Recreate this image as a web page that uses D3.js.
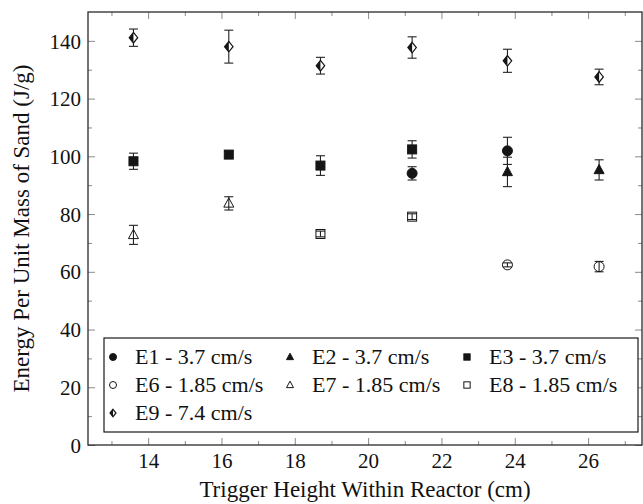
<!DOCTYPE html>
<html>
<head>
<meta charset="utf-8">
<script src="https://cdn.jsdelivr.net/npm/d3@7"></script>
<style>
  body { margin: 0; background: #fff; font-family: serif; }
  svg, svg text { font-family: serif; }
</style>
</head>
<body>
<svg id="plot" width="643" height="504" font-family="serif"></svg>
<script>
// trigger heights (cm)
const xTicks = [14, 16, 18, 20, 22, 24, 26];
const yTicks = [0, 20, 40, 60, 80, 100, 120, 140];

// each series: heights, energy, error (+/-)
const e1X = [21.2, 23.8];
const e1Y = [94.1, 101.9];
const e1Err = [2.3, 4.7];

const e2X = [23.8, 26.3];
const e2Y = [94.6, 95.3];
const e2Err = [5.1, 3.5];

const e3X = [13.6, 16.2, 18.7, 21.2];
const e3Y = [98.3, 100.6, 96.8, 102.4];
const e3Err = [2.8, 1.0, 3.4, 3.0];

const e6X = [23.8, 26.3];
const e6Y = [62.4, 61.8];
const e6Err = [0.7, 1.8];

const e7X = [13.6, 16.2];
const e7Y = [72.8, 83.7];
const e7Err = [3.3, 2.3];

const e8X = [18.7, 21.2];
const e8Y = [73.1, 79.1];
const e8Err = [1.0, 1.0];

const e9X = [13.6, 16.2, 18.7, 21.2, 23.8, 26.3];
const e9Y = [141.1, 138.0, 131.4, 137.7, 133.1, 127.5];
const e9Err = [3.0, 5.7, 2.9, 3.7, 4.0, 2.7];

const seriesNames = ['E1 - 3.7 cm/s', 'E2 - 3.7 cm/s', 'E3 - 3.7 cm/s',
  'E6 - 1.85 cm/s', 'E7 - 1.85 cm/s', 'E8 - 1.85 cm/s', 'E9 - 7.4 cm/s'];
const seriesMarks = ['circle', 'triangle', 'square', 'ocircle', 'otriangle', 'osquare', 'halfdiamond'];

const series = [
  { x: e1X, y: e1Y, err: e1Err },
  { x: e2X, y: e2Y, err: e2Err },
  { x: e3X, y: e3Y, err: e3Err },
  { x: e6X, y: e6Y, err: e6Err },
  { x: e7X, y: e7Y, err: e7Err },
  { x: e8X, y: e8Y, err: e8Err },
  { x: e9X, y: e9Y, err: e9Err }
].map(function (s, i) {
  return { name: seriesNames[i], mark: seriesMarks[i],
    points: s.x.map(function (x, j) { return { x: x, y: s.y[j], err: s.err[j] }; }) };
});

const margin = { top: 12, left: 88, bottom: 59, right: 1 };
const width = 643 - margin.left - margin.right;
const height = 504 - margin.top - margin.bottom;
const ink = '#151515';

const root = d3.select('#plot');
const chart = root.append('g')
  .attr('transform', `translate(${margin.left}, ${margin.top})`);

const xScale = d3.scaleLinear().domain([12.36, 27.47]).range([0, width]);
const yScale = d3.scaleLinear().domain([0, 150]).range([height, 0]);

// ticks drawn inward on all four sides
function drawTicks(values, len, labels) {
  const bottom = d3.axisBottom(xScale).tickValues(values).tickSize(-len).tickFormat(labels ? d3.format('d') : '');
  const top = d3.axisTop(xScale).tickValues(values).tickSize(-len).tickFormat('');
  chart.append('g').attr('class', 'xb').attr('transform', `translate(0, ${height})`).call(bottom);
  chart.append('g').attr('class', 'xt').call(top);
}
function drawYTicks(values, len, labels) {
  const left = d3.axisLeft(yScale).tickValues(values).tickSize(-len).tickFormat(labels ? d3.format('d') : '');
  const right = d3.axisRight(yScale).tickValues(values).tickSize(-len).tickFormat('');
  chart.append('g').attr('class', 'yl').call(left);
  chart.append('g').attr('class', 'yr').attr('transform', `translate(${width}, 0)`).call(right);
}
drawTicks(d3.range(13, 28, 2), 4, false);
drawTicks(xTicks, 7, true);
drawYTicks(d3.range(10, 150, 20), 4, false);
drawYTicks(yTicks, 7, true);

chart.selectAll('.domain').remove();
chart.selectAll('.xb, .xt, .yl, .yr').attr('font-family', 'serif').attr('font-size', 21);
chart.selectAll('.tick line').attr('stroke', '#8a8a8a').attr('stroke-width', 1);
chart.selectAll('.xb .tick text').attr('y', 23).attr('dy', null);
chart.selectAll('.yl .tick text').attr('x', -7).attr('dy', '0.34em');
chart.selectAll('.tick text').attr('fill', '#111').style('font-family', 'serif');

chart.append('rect')
  .attr('width', width).attr('height', height)
  .attr('fill', 'none').attr('stroke', '#2a2a2a').attr('stroke-width', 1.3);

// marker drawing
function drawMark(g, mark, s) {
  const r = s / 2;
  if (mark === 'circle' || mark === 'ocircle') {
    g.append('circle').attr('r', r)
      .attr('fill', mark === 'circle' ? ink : 'none')
      .attr('stroke', ink).attr('stroke-width', 1);
  } else if (mark === 'square' || mark === 'osquare') {
    g.append('rect').attr('x', -r * 0.9).attr('y', -r * 0.9).attr('width', s * 0.9).attr('height', s * 0.9)
      .attr('fill', mark === 'square' ? ink : 'none')
      .attr('stroke', ink).attr('stroke-width', 1);
  } else if (mark === 'triangle' || mark === 'otriangle') {
    g.append('path')
      .attr('d', `M0,${-r * 1.1}L${r},${r * 0.75}L${-r},${r * 0.75}Z`)
      .attr('fill', mark === 'triangle' ? ink : 'none')
      .attr('stroke', ink).attr('stroke-width', 1);
  } else if (mark === 'halfdiamond') {
    const w = r * 0.85, h = r * 1.05;
    g.append('path').attr('d', `M0,${-h}L${w},0L0,${h}L${-w},0Z`)
      .attr('fill', '#fff').attr('stroke', ink).attr('stroke-width', 1.2);
    g.append('path').attr('d', `M0,${-h}L${-w},0L0,${h}Z`).attr('fill', ink);
  }
}

const marks = chart.append('g');
series.forEach(function (s) {
  const g = marks.append('g');
  // error bars first
  s.points.forEach(function (p) {
    const px = xScale(p.x);
    const y0 = yScale(p.y - p.err);
    const y1 = yScale(p.y + p.err);
    const eb = g.append('g').attr('stroke', '#222').attr('stroke-width', 1.1);
    eb.append('line').attr('x1', px).attr('x2', px).attr('y1', y0).attr('y2', y1);
    eb.append('line').attr('x1', px - 4.5).attr('x2', px + 4.5).attr('y1', y0).attr('y2', y0);
    eb.append('line').attr('x1', px - 4.5).attr('x2', px + 4.5).attr('y1', y1).attr('y2', y1);
  });
  s.points.forEach(function (p) {
    const m = g.append('g').attr('transform', `translate(${xScale(p.x)}, ${yScale(p.y)})`);
    drawMark(m, s.mark, 10);
  });
});

// legend
const legend = chart.append('g').attr('transform', `translate(16, ${height - 107})`);
legend.append('rect')
  .attr('width', 534).attr('height', 94)
  .attr('fill', '#fff').attr('stroke', '#1a1a1a').attr('stroke-width', 1.2);
const colX = [9, 186, 363];
series.forEach(function (s, i) {
  const col = i < 3 ? i : (i < 6 ? i - 3 : 0);
  const row = i < 3 ? 0 : (i < 6 ? 1 : 2);
  const item = legend.append('g')
    .attr('transform', `translate(${colX[col]}, ${19 + row * 28})`);
  drawMark(item.append('g'), s.mark, 7);
  item.append('text')
    .attr('x', 22).attr('dy', '0.34em')
    .attr('font-family', 'serif').style('font-family', 'serif')
    .attr('font-size', 22).attr('fill', '#111')
    .text(s.name);
});

// axis titles
root.append('text')
  .attr('x', margin.left + width / 2).attr('y', 497)
  .attr('text-anchor', 'middle')
  .attr('font-family', 'serif').style('font-family', 'serif')
  .attr('font-size', 23).attr('fill', '#111')
  .text('Trigger Height Within Reactor (cm)');
root.append('text')
  .attr('transform', `translate(29, ${margin.top + height / 2}) rotate(-90)`)
  .attr('text-anchor', 'middle')
  .attr('font-family', 'serif').style('font-family', 'serif')
  .attr('font-size', 23).attr('fill', '#111')
  .text('Energy Per Unit Mass of Sand (J/g)');
</script>
</body>
</html>
